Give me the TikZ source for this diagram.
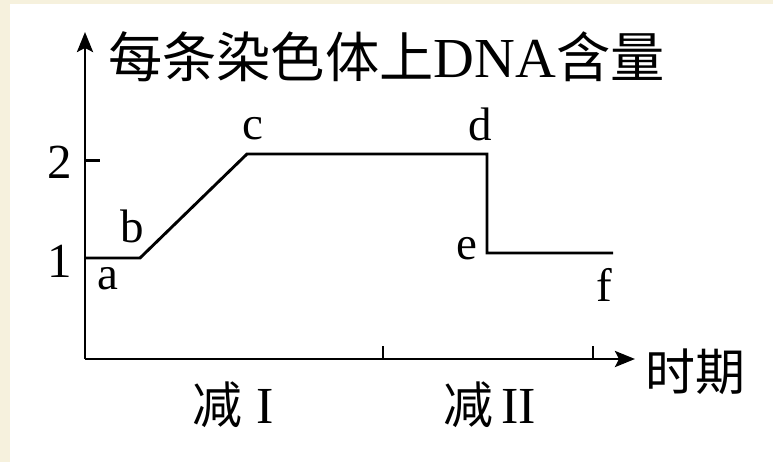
\documentclass[tikz,border=0pt]{standalone}
\usepackage{fontspec}
\setmainfont{Liberation Serif}
\newfontfamily\cjk{Noto Sans CJK SC}[Scale=0.96]
\usetikzlibrary{arrows.meta}
\definecolor{cream}{HTML}{F6F1DD}
\tikzset{
  axis/.style={line width=2.9pt,-{Stealth[length=20pt,width=16pt,inset=4pt]}},
  curve/.style={line width=2.9pt,line join=miter},
  tick/.style={line width=2.6pt},
  lbl/.style={inner sep=0pt,font=\fontsize{47}{47}\selectfont},
  num/.style={inner sep=0pt,font=\fontsize{49}{49}\selectfont},
  cn/.style={inner sep=0pt,font=\fontsize{52}{52}\selectfont},
  ttl/.style={inner sep=0pt,font=\fontsize{56.5}{56.5}\selectfont}
}
\begin{document}
\begin{tikzpicture}[x=1pt,y=-1pt]
\useasboundingbox (0,0) rectangle (773,462);
\fill[cream] (0,0) rectangle (773,462);
\fill[white] (10,4) rectangle (773,462);
% axes
\coordinate (O) at (85,359);
\coordinate (ytop) at (85,32);
\coordinate (xend) at (635,359);
\draw[axis] (O) -- (ytop);
\draw[axis] (O) -- (xend);
% ticks
\coordinate (t2a) at (85,160.5);
\coordinate (t2b) at (100,160.5);
\draw[tick] (t2a) -- (t2b);
\coordinate (tx1a) at (383,359);
\coordinate (tx1b) at (383,346);
\coordinate (tx2a) at (593,359);
\coordinate (tx2b) at (593,346);
\draw[tick] (tx1a) -- (tx1b);
\draw[tick] (tx2a) -- (tx2b);
% curve
\coordinate (A) at (85,258);
\coordinate (B) at (140,258);
\coordinate (C) at (247,154);
\coordinate (D) at (487,154);
\coordinate (E) at (487,253);
\coordinate (F) at (613,253);
\draw[curve] (A) -- (B) -- (C) -- (D) -- (E) -- (F);
% labels
\node[ttl,anchor=west] (title) at (108,57) {{\cjk 每条染色体上}DNA{\cjk 含量}};
\node[num] (n2) at (60,162) {2};
\node[num] (n1) at (60,261) {1};
\node[lbl] (la) at (108,279) {a};
\node[lbl] (lb) at (132,226) {b};
\node[lbl] (lc) at (253,129) {c};
\node[lbl] (ld) at (480,124) {d};
\node[lbl] (le) at (467,249) {e};
\node[lbl] (lf) at (604,285) {f};
\node[cn] (m1) at (233,405) {{\cjk 减}\hspace{14pt}I};
\node[cn] (m2) at (490,405) {{\cjk 减}\hspace{8pt}II};
\node[cn] (time) at (695,372) {\cjk 时期};
\end{tikzpicture}
\end{document}
